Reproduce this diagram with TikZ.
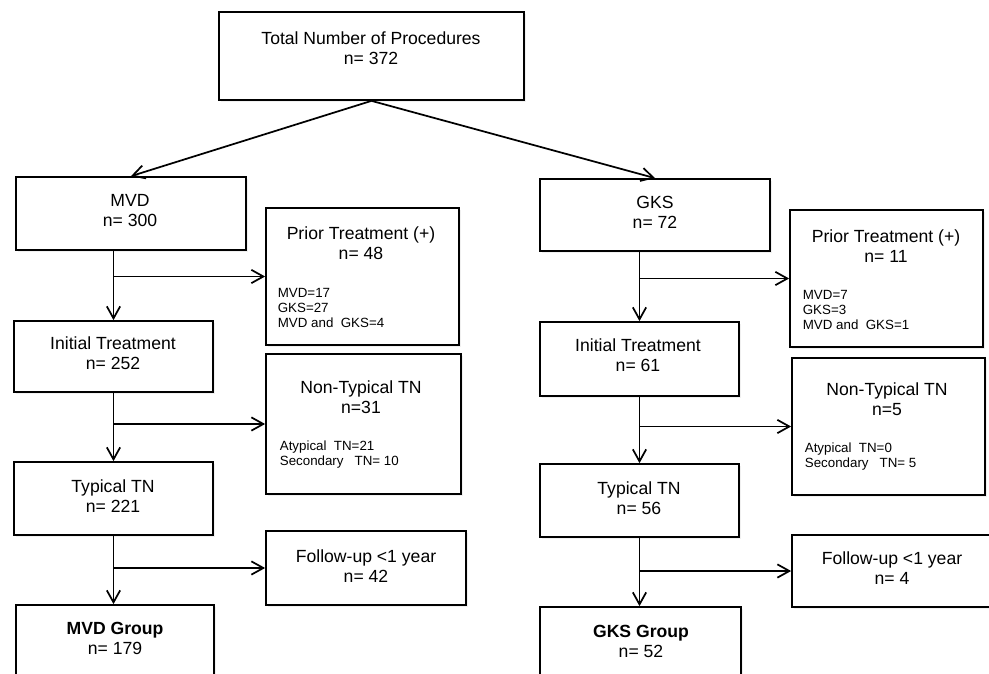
\documentclass[tikz,border=0pt]{standalone}
\usepackage{fontspec}
\setmainfont{Liberation Sans}
\usetikzlibrary{arrows.meta,shadows}

\tikzset{every picture/.style={line width=1.3pt},
  box/.style={draw,fill=white,rectangle,inner sep=0pt,
    drop shadow={shadow xshift=1.5pt,shadow yshift=-1.5pt,opacity=.12}},
  boxsize/.style 2 args={minimum width=#1*0.75pt,minimum height=#2*0.75pt},
  txt/.style={align=center,inner sep=0pt,font=\fontsize{13.2}{15}\selectfont},
  smalltxt/.style={align=left,anchor=west,inner sep=0pt,font=\fontsize{10}{11.6}\selectfont},
  conn/.style={-{Straight Barb[length=9pt,width=10pt]}}}

\begin{document}
\begin{tikzpicture}[x=0.75pt,y=0.75pt,yscale=-1,xscale=1]
\useasboundingbox (0,0) rectangle (989,674);
\clip (0,0) rectangle (989,674);

%Shape: Rectangle [top]
\node[box,boxsize={305}{88}] (total) at (371.5,56) {};
%Shape: Rectangle [left branch]
\node[box,boxsize={230}{73}] (mvd) at (131,213.5) {};
\node[box,boxsize={193}{137}] (priorL) at (362.5,276.5) {};
\node[box,boxsize={199}{71}] (initL) at (113.5,356.5) {};
\node[box,boxsize={195}{140}] (nontypL) at (363.5,424) {};
\node[box,boxsize={199}{73}] (typL) at (113.5,498.5) {};
\node[box,boxsize={200}{74}] (followL) at (366,568) {};
\node[box,boxsize={198}{73}] (mvdgrp) at (115,641.5) {};
%Shape: Rectangle [right branch]
\node[box,boxsize={230}{72}] (gks) at (655,215) {};
\node[box,boxsize={193}{137}] (priorR) at (886.5,278.5) {};
\node[box,boxsize={199}{74}] (initR) at (639.5,359) {};
\node[box,boxsize={193}{137}] (nontypR) at (888.5,426.5) {};
\node[box,boxsize={199}{73}] (typR) at (639.5,500.5) {};
\node[box,boxsize={203}{72}] (followR) at (893.5,571) {};
\node[box,boxsize={201}{73}] (gksgrp) at (640.5,643.5) {};

%Straight Lines [split]
\draw[conn] (total.south) -- (mvd.north);
\draw[conn] (total.south) -- (gks.north);
%Straight Lines [left column]
\draw[conn] (mvd.south -| initL.north) -- (initL.north);
\draw[conn] (initL.north |- priorL.west) -- (priorL.west);
\draw[conn] (initL.south) -- (typL.north);
\draw[conn] (typL.north |- nontypL.west) -- (nontypL.west);
\draw[conn] (typL.south) -- (mvdgrp.north -| typL.south);
\draw[conn] (typL.south |- followL.west) -- (followL.west);
%Straight Lines [right column]
\draw[conn] (gks.south -| initR.north) -- (initR.north);
\draw[conn] (initR.north |- priorR.west) -- (priorR.west);
\draw[conn] (initR.south) -- (typR.north);
\draw[conn] (typR.north |- nontypR.west) -- (nontypR.west);
\draw[conn] (typR.south) -- (gksgrp.north -| typR.south);
\draw[conn] (typR.south |- followR.west) -- (followR.west);

% Text Node
\node[txt] (totaltxt) at (371,48) {Total Number of Procedures\\n= 372};
% Text Node
\node[txt] (mvdtxt) at (130,210.5) {MVD\\n= 300};
\node[txt] (priorLtxt) at (361,243) {Prior Treatment (+)\\n= 48};
\node[smalltxt] (priorLsub) at (277,308) {MVD=17\\GKS=27\\MVD and\ \ GKS=4};
\node[txt] (initLtxt) at (113,353) {Initial Treatment\\n= 252};
\node[txt] (nontypLtxt) at (361,397.5) {Non-Typical TN\\n=31};
\node[smalltxt] (nontypLsub) at (279,454.5) {Atypical\ \ TN=21\\Secondary\ \ \ TN= 10};
\node[txt] (typLtxt) at (113,496.5) {Typical TN\\n= 221};
\node[txt] (followLtxt) at (366,566) {Follow-up \textless1 year\\n= 42};
\node[txt] (mvdgrptxt) at (115,638) {\textbf{MVD Group}\\n= 179};
% Text Node
\node[txt] (gkstxt) at (655,212.5) {GKS\\n= 72};
\node[txt] (priorRtxt) at (886,246) {Prior Treatment (+)\\n= 11};
\node[smalltxt] (priorRsub) at (802,310) {MVD=7\\GKS=3\\MVD and\ \ GKS=1};
\node[txt] (initRtxt) at (638,355.5) {Initial Treatment\\n= 61};
\node[txt] (nontypRtxt) at (887,399.5) {Non-Typical TN\\n=5};
\node[smalltxt] (nontypRsub) at (804,456.5) {Atypical\ \ TN=0\\Secondary\ \ \ TN= 5};
\node[txt] (typRtxt) at (639,498) {Typical TN\\n= 56};
\node[txt] (followRtxt) at (892,568) {Follow-up \textless1 year\\n= 4};
\node[txt] (gksgrptxt) at (641,641) {\textbf{GKS Group}\\n= 52};

\end{tikzpicture}
\end{document}
